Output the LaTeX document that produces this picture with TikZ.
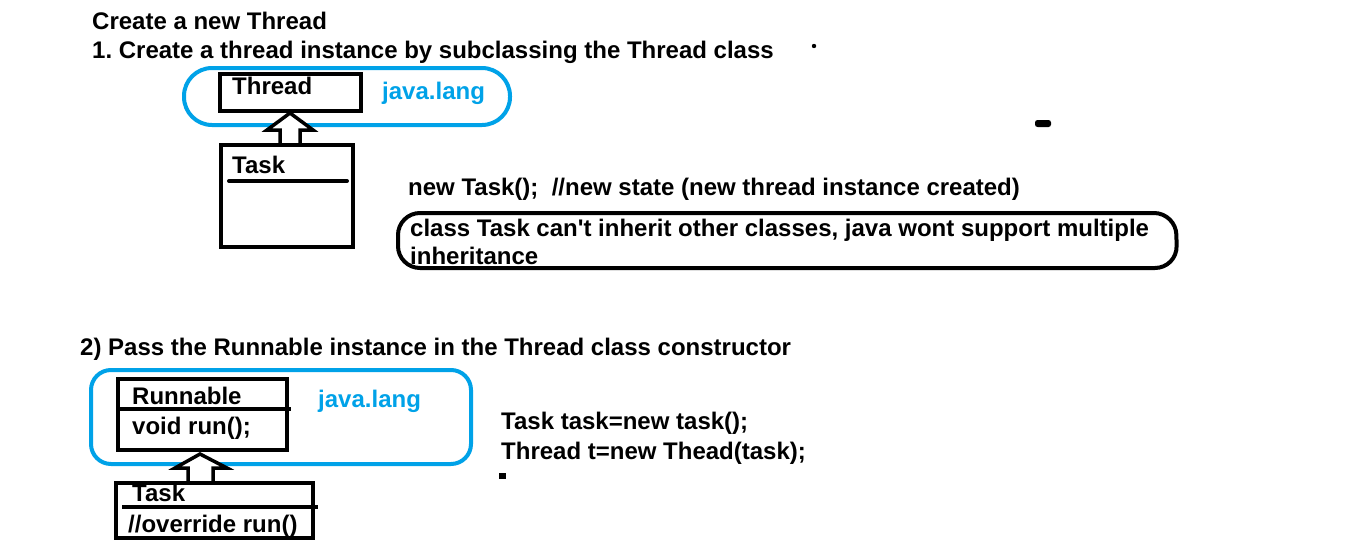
\documentclass[tikz,border=0pt]{standalone}
\usepackage{fontspec}
\setmainfont{Liberation Sans}[Ligatures=TeXOff]
\definecolor{paintblue}{HTML}{00A2E8}
\frenchspacing
\begin{document}
\begin{tikzpicture}[x=1pt,y=-1pt,
  txt/.style={anchor=base west,inner sep=0pt,font=\fontsize{24}{28}\selectfont\bfseries},
  btxt/.style={txt,text=paintblue},
  blk/.style={draw=black,line width=4pt},
  pkg/.style={draw=paintblue,line width=4pt},
  inh/.style={draw=black,line width=3.5pt,fill=white,line join=miter}]
\useasboundingbox[fill=white] (0,0) rectangle (1349,544);
% section 1
\node[txt] (t1) at (92,29) {Create a new Thread};
\node[txt] (t2) at (92,58) {1. Create a thread instance by subclassing the Thread class};
\fill (814,46) circle (2.2);
\draw[pkg,rounded corners=28pt] (184,68) rectangle (510,125);
\node[btxt] (jl1) at (382,99) {java.lang};
\draw[inh] (280,146) -- (280,130) -- (267,130) -- (290,113) -- (313,130) -- (300,130) -- (300,146);
\draw[blk,fill=white] (220,74) rectangle (361,111);
\node[txt] (thread) at (232,94) {Thread};
\draw[blk] (221,145) rectangle (353,247);
\draw[line width=4pt,line cap=round] (229,181) -- (347,181);
\node[txt] (task1) at (232,173) {Task};
\fill[rounded corners=2.5pt] (1035,120) rectangle (1051,127);
\node[txt] (nt) at (408,195) {new Task();\ \ //new state (new thread instance created)};
\draw[blk,rounded corners=22pt] (398,213) -- (1176,213) -- (1177,268) -- (398,268) -- cycle;
\node[txt] (c1) at (410,236) {class Task can't inherit other classes, java wont support multiple};
\node[txt] (c2) at (410,264) {inheritance};
% section 2
\node[txt] (t3) at (80,355) {2) Pass the Runnable instance in the Thread class constructor};
\draw[pkg,rounded corners=20pt] (91,370) rectangle (471,464);
\node[btxt] (jl2) at (318,407) {java.lang};
\draw[inh] (188,484) -- (188,468) -- (175,468) -- (200,454) -- (227,468) -- (213,468) -- (213,484);
\draw[blk,fill=white] (118,379) rectangle (287,450);
\draw[line width=4pt] (117,409) -- (291,409);
\node[txt] (run) at (132,404) {Runnable};
\node[txt] (vr) at (132,434) {void run();};
\draw[blk] (116,483) rectangle (313,538);
\draw[line width=4pt] (122,507) -- (318,507);
\node[txt] (task2) at (132,501) {Task};
\node[txt] (ov) at (128,532) {//override run()};
\node[txt] (tt) at (501,429) {Task task=new task();};
\node[txt] (th) at (501,459) {Thread t=new Thead(task);};
\fill (499,473) rectangle (506,479);
\end{tikzpicture}
\end{document}
